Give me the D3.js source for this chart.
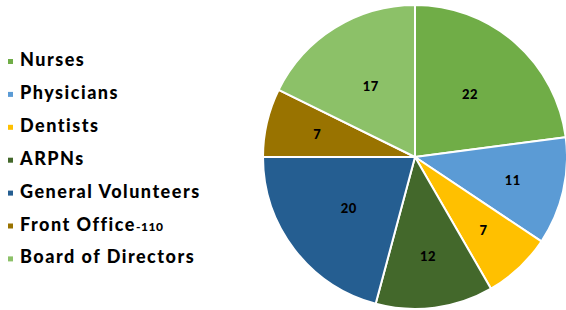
<!DOCTYPE html>
<html><head><meta charset="utf-8">
<script src="https://cdn.jsdelivr.net/npm/d3@7"></script>
<style>html,body{margin:0;padding:0;background:#fff;}svg{display:block;}</style>
</head><body>
<script>
const categories = ["Nurses","Physicians","Dentists","ARPNs","General Volunteers","Front Office","Board of Directors"];
const suffixes = ["","","","","","-110",""];
const values = [22,11,7,12,20,7,17];
const colors = ["#70AD47","#5B9BD5","#FFC000","#43682B","#255E91","#997300","#8CC168"];

const W=566,H=310;
const svg=d3.select("body").append("svg").attr("width",W).attr("height",H);
const cx=415, cy=157, R=152;
const data=categories.map((c,i)=>({c, v:values[i], col:colors[i], suf:suffixes[i]}));
const pie=d3.pie().value(d=>d.v).sort(null);
const arcs=pie(data);
const arc=d3.arc().innerRadius(0).outerRadius(R);
const g=svg.append("g").attr("transform",`translate(${cx},${cy})`);
g.selectAll("path").data(arcs).join("path")
  .attr("d",arc).attr("fill",d=>d.data.col)
  .attr("stroke","#fff").attr("stroke-width",2).attr("stroke-linejoin","round");
g.selectAll("text").data(arcs).join("text")
  .attr("transform",d=>{
    const a=(d.startAngle+d.endAngle)/2, span=d.endAngle-d.startAngle;
    const lr = span<0.9 ? 0.66*R : 0.55*R;
    return `translate(${Math.sin(a)*lr},${-Math.cos(a)*lr})`;
  })
  .attr("text-anchor","middle").attr("dominant-baseline","central")
  .style("font-family","Lato, 'DejaVu Sans', sans-serif").style("font-weight","900").style("font-size","13px")
  .style("letter-spacing","0.5px")
  .attr("fill","#000").text(d=>d.data.v);

const leg=svg.append("g");
const rowY=i=>66+i*32.9;
leg.selectAll("rect").data(data).join("rect")
  .attr("x",8).attr("y",(d,i)=>rowY(i)-7).attr("width",5).attr("height",5).attr("fill",d=>d.col);
const t=leg.selectAll("text").data(data).join("text")
  .attr("x",20).attr("y",(d,i)=>rowY(i))
  .style("font-family","Lato, 'DejaVu Sans', sans-serif").style("font-weight","900").style("font-size","18px")
  .attr("fill","#000");
t.append("tspan").style("letter-spacing","1.5px").text(d=>d.c);
t.append("tspan").style("font-size","12px").style("letter-spacing","0.5px").text(d=>d.suf);
</script>
</body></html>
